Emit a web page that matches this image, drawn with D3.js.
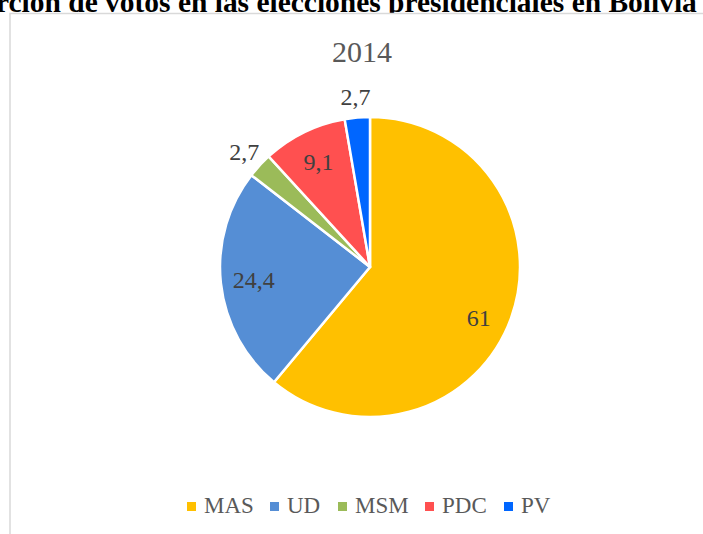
<!DOCTYPE html>
<html>
<head>
<meta charset="utf-8">
<script src="https://cdn.jsdelivr.net/npm/d3@7/dist/d3.min.js"></script>
<style>
  html, body { margin: 0; padding: 0; background: #fff; overflow: hidden; }
  svg { display: block; }
</style>
</head>
<body>
<svg id="chart" width="703" height="534"></svg>
<script>
// ---- data ----
const categories = ["MAS", "UD", "MSM", "PDC", "PV"];
const values = [61, 24.4, 2.7, 9.1, 2.7];
const labels = ["61", "24,4", "2,7", "9,1", "2,7"];
const colors = ["#FFC000", "#558ED5", "#9BBB59", "#FF5050", "#0066FF"];
const chartTitle = "2014";
const pageTitle = "Proporción de votos en las elecciones presidenciales en Bolivia (2014)";

const svg = d3.select("#chart");
const serif = "'Liberation Serif', 'Times New Roman', serif";

// page title (cropped at top as in reference)
function measure(str, size) {
  const t = svg.append("text").attr("font-family", serif).attr("font-weight", "bold")
    .attr("font-size", size).text(str);
  const w = t.node().getComputedTextLength();
  t.remove();
  return w;
}
// fit so that "rción ... Bolivia " spans from x=-4 to x=697
const baseW = measure("rción de votos en las elecciones presidenciales en Bolivia ", 24);
const titleSize = 24 * 701 / baseW;
const prefixW = measure("Propo", titleSize);
svg.append("text")
  .attr("x", -4 - prefixW)
  .attr("y", 12)
  .attr("font-family", serif)
  .attr("font-weight", "bold")
  .attr("font-size", titleSize)
  .attr("fill", "#000")
  .text(pageTitle);

// chart frame
svg.append("rect")
  .attr("x", 10).attr("y", 13.5)
  .attr("width", 720).attr("height", 560)
  .attr("fill", "#fff")
  .attr("stroke", "#d9d9d9")
  .attr("stroke-width", 1.5);

// chart title
svg.append("text")
  .attr("x", 362).attr("y", 62)
  .attr("text-anchor", "middle")
  .attr("font-family", serif)
  .attr("font-size", 30)
  .attr("fill", "#595959")
  .text(chartTitle);

// pie
const cx = 370, cy = 267, r = 150;
const data = categories.map((c, i) => ({ cat: c, value: values[i], label: labels[i], color: colors[i] }));
const pie = d3.pie().sort(null).value(d => d.value);
const arcs = pie(data);
const arc = d3.arc().innerRadius(0).outerRadius(r);

const g = svg.append("g").attr("transform", `translate(${cx},${cy})`);
g.selectAll("path.slice")
  .data(arcs)
  .join("path")
  .attr("class", "slice")
  .attr("d", arc)
  .attr("fill", d => d.data.color)
  .attr("stroke", "#fff")
  .attr("stroke-width", 2.5)
  .attr("stroke-linejoin", "round");

// label radii: inside for big slices, outside for small ones
const labelRadius = d => (d.data.value < 5 ? r * 1.14 : (d.data.value > 50 ? r * 0.8 : r * 0.78));
const labelAngleShift = d => (d.data.value > 50 ? 0.09 : 0);
const labelPos = d => {
  const a = (d.startAngle + d.endAngle) / 2 + labelAngleShift(d);
  const rr = labelRadius(d);
  return [Math.sin(a) * rr, -Math.cos(a) * rr];
};
g.selectAll("text.lbl")
  .data(arcs)
  .join("text")
  .attr("class", "lbl")
  .attr("transform", d => { const [x, y] = labelPos(d); return `translate(${x},${y})`; })
  .attr("text-anchor", "middle")
  .attr("dy", "0.35em")
  .attr("font-family", serif)
  .attr("font-size", 24)
  .attr("fill", "#404040")
  .text(d => d.data.label);

// legend
const legendX = [187, 270, 338, 425, 504];
const legend = svg.append("g");
const items = legend.selectAll("g.item")
  .data(data)
  .join("g")
  .attr("class", "item")
  .attr("transform", (d, i) => `translate(${legendX[i]},0)`);
items.append("rect")
  .attr("x", 0).attr("y", 502)
  .attr("width", 9).attr("height", 9)
  .attr("fill", d => d.color);
items.append("text")
  .attr("x", 17).attr("y", 513)
  .attr("font-family", serif)
  .attr("font-size", 23)
  .attr("fill", "#595959")
  .text(d => d.cat);
</script>
</body>
</html>
